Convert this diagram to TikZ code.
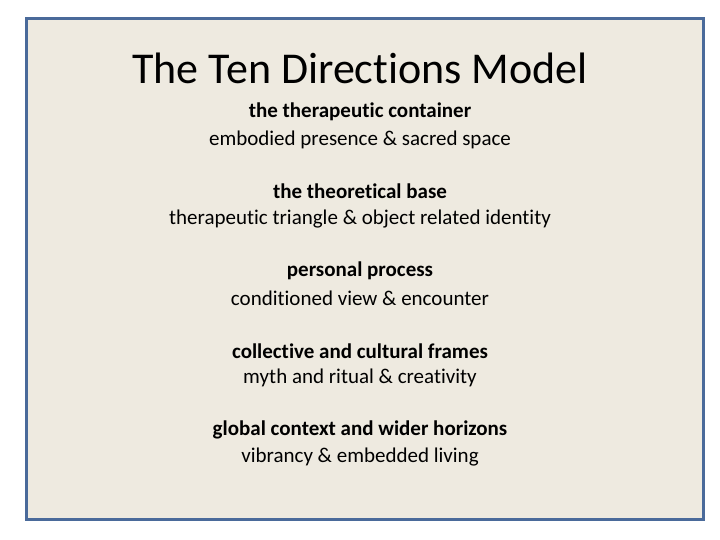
\documentclass[tikz,border=0pt]{standalone}
\usepackage{fontspec}
\setmainfont{Carlito}[Ligatures={NoCommon,NoRequired,NoContextual}]
\definecolor{bg}{HTML}{EEEAE0}
\definecolor{frame}{HTML}{4A6A9A}
\begin{document}
\begin{tikzpicture}[x=1pt,y=1pt,
  head/.style={font=\fontsize{21}{24}\selectfont\bfseries, inner sep=0pt},
  sub/.style={font=\fontsize{21}{24}\selectfont, inner sep=0pt}]
\useasboundingbox (0,0) rectangle (720,540);
\draw[frame, line width=3pt, fill=bg] (26,20) rectangle (703,521);
\node[font=\fontsize{44}{48}\selectfont, inner sep=0pt] (title) at (360,472) {The Ten Directions Model};
\node[head] (h1) at (360,428) {the therapeutic container};
\node[sub] (s1) at (360,400) {embodied presence \& sacred space};
\node[head] (h2) at (360,349) {the theoretical base};
\node[sub] (s2) at (360,321) {therapeutic triangle \& object related identity};
\node[head] (h3) at (360,269) {personal process};
\node[sub] (s3) at (360,242) {conditioned view \& encounter};
\node[head] (h4) at (360,189) {collective and cultural frames};
\node[sub] (s4) at (360,162) {myth and ritual \& creativity};
\node[head] (h5) at (360,110) {global context and wider horizons};
\node[sub] (s5) at (360,83) {vibrancy \& embedded living};
\end{tikzpicture}
\end{document}
